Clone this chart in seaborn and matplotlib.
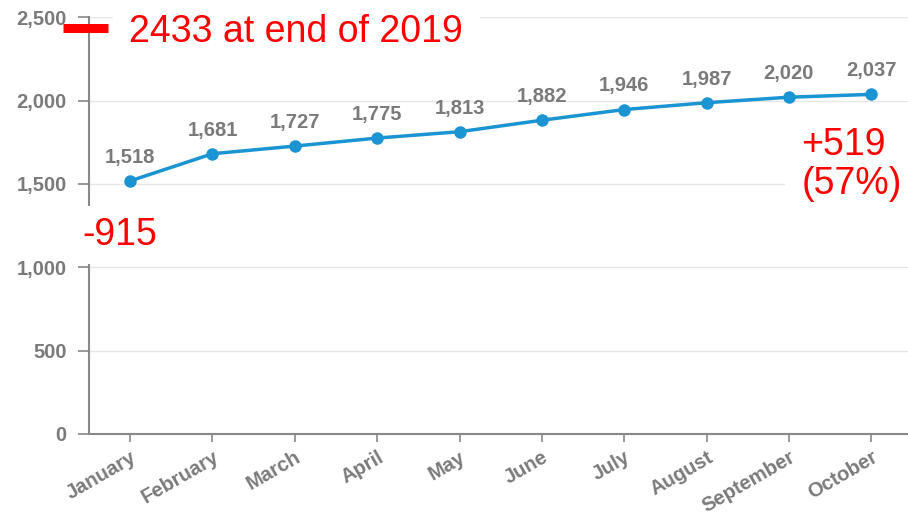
import seaborn as sns
import matplotlib.pyplot as plt
import pandas as pd

# Données
months = ['January', 'February', 'March', 'April', 'May', 'June',
          'July', 'August', 'September', 'October']
values = [1518, 1681, 1727, 1775, 1813, 1882, 1946, 1987, 2020, 2037]
yticks = [0, 500, 1000, 1500, 2000, 2500]
end_2019 = 2433
drop_text = '-915'
gain_text = '+519\n(57%)'

df = pd.DataFrame({'month': months, 'value': values})
df['idx'] = range(len(months))

sns.set_style('white')
plt.rcParams['font.family'] = ['Liberation Sans', 'DejaVu Sans']

fig = plt.figure(figsize=(9.08, 5.21), dpi=100)
ax = fig.add_axes([0.098, 0.167, 0.905, 0.8])

grey = '#7a7a7a'
red = '#ff0000'
blue = '#1a94d2'

sns.lineplot(x='idx', y='value', data=df, ax=ax, color=blue, linewidth=2.5,
             marker='o', markersize=9, markeredgewidth=0, zorder=3)

# étiquettes des points
for i, v in zip(df['idx'], df['value']):
    ax.annotate(f'{v:,}', (i, v), xytext=(0, 17), textcoords='offset points',
                ha='center', va='center', fontsize=14.5, fontweight='bold',
                color=grey)

ax.set_xlim(-0.5, 9.48)
ax.set_ylim(0, 2500)
ax.set_xticks(df['idx'])
ax.set_xticklabels(months, rotation=30, ha='right', rotation_mode='anchor')
ax.set_yticks(yticks)
ax.set_yticklabels([f'{t:,}' for t in yticks])
ax.set_xlabel('')
ax.set_ylabel('')

ax.grid(axis='y', color='#e6e6e6', linewidth=1)
ax.set_axisbelow(True)
for s in ['top', 'right']:
    ax.spines[s].set_visible(False)
for s in ['left', 'bottom']:
    ax.spines[s].set_color('#888888')
    ax.spines[s].set_linewidth(1.5)

ax.tick_params(axis='y', left=True, length=8, width=1.2, color='#888888',
               pad=8, labelsize=14.5, labelcolor=grey)
ax.tick_params(axis='x', bottom=True, length=6, width=1.2, color='#888888',
               pad=4, labelsize=14.5, labelcolor=grey)
for lab in ax.get_xticklabels() + ax.get_yticklabels():
    lab.set_fontweight('bold')

# annotations en rouge
box = dict(facecolor='white', edgecolor='none', pad=12)
ax.axhline(end_2019, xmin=-0.032, xmax=0.023, color=red, linewidth=6.5,
           solid_capstyle='butt', clip_on=False, zorder=6)
ax.text(-0.01, end_2019, '2433 at end of 2019', color=red, fontsize=27,
        ha='left', va='center_baseline', bbox=box, zorder=5, clip_on=False)
ax.text(-0.12, 1193, drop_text, color=red, fontsize=27,
        ha='center', va='center', bbox=dict(facecolor='white', edgecolor='none', pad=8),
        zorder=5, clip_on=False)
ax.text(8.15, 1615, gain_text, color=red, fontsize=27, linespacing=1.1,
        ha='left', va='center', bbox=box, zorder=5, clip_on=False)

plt.savefig('out.png', dpi=100)
